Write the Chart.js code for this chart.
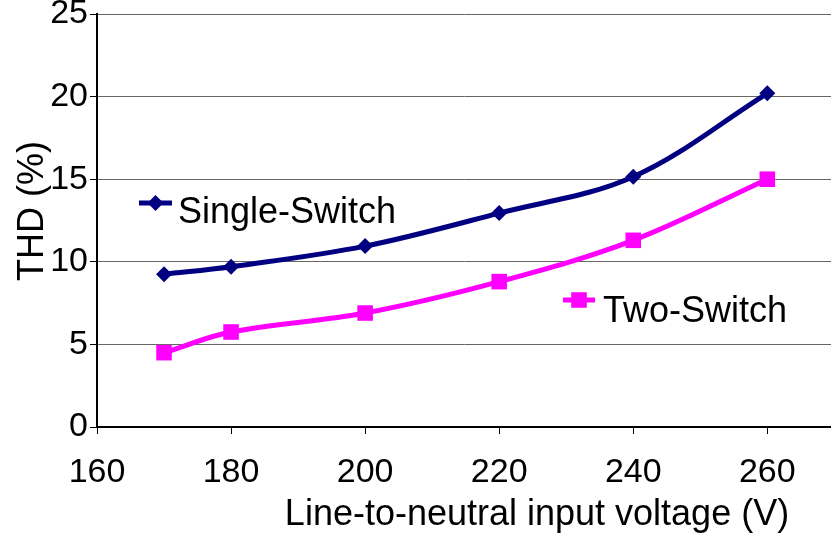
<!DOCTYPE html>
<html>
<head>
<meta charset="utf-8">
<script src="https://cdn.jsdelivr.net/npm/chart.js@4/dist/chart.umd.min.js"></script>
<style>
  body { margin: 0; background: #fff; }
  #wrap { width: 831px; height: 536px; }
</style>
</head>
<body>
<div id="wrap"><canvas id="thd" width="831" height="536"></canvas></div>
<script>
// THD vs line-to-neutral voltage
const voltages = [170, 180, 200, 220, 240, 260];
const singleSwitch = [9.25, 9.7, 10.95, 12.95, 15.15, 20.2];
const twoSwitch = [4.5, 5.75, 6.9, 8.8, 11.3, 15.0];
const xTicks = [160, 180, 200, 220, 240, 260];
const yTicks = [0, 5, 10, 15, 20, 25];

const FONT = "'Liberation Sans', Arial, sans-serif";

const pts = vals => vals.map((v, i) => ({ x: voltages[i], y: v }));

// legend boxes and axis titles placed like the original figure
const labelsPlugin = {
    id: "labels",
    afterDraw(chart) {
        const ctx = chart.ctx;
        const spots = [
            { lx1: 139, lx2: 172, ly: 203, tx: 178, ty: 223 },
            { lx1: 563, lx2: 595, ly: 300, tx: 603, ty: 322 }
        ];
        chart.data.datasets.forEach((ds, i) => {
            const s = spots[i];
            ctx.save();
            ctx.strokeStyle = ds.borderColor;
            ctx.lineWidth = ds.borderWidth;
            ctx.beginPath();
            ctx.moveTo(s.lx1, s.ly);
            ctx.lineTo(s.lx2, s.ly);
            ctx.stroke();
            ctx.fillStyle = ds.pointBackgroundColor;
            ctx.strokeStyle = ds.pointBackgroundColor;
            Chart.helpers.drawPoint(ctx, {
                pointStyle: ds.pointStyle, radius: ds.pointRadius, borderWidth: 0, rotation: 0
            }, (s.lx1 + s.lx2) / 2, s.ly);
            ctx.fillStyle = "#000";
            ctx.font = "36px " + FONT;
            ctx.textAlign = "left";
            ctx.textBaseline = "alphabetic";
            ctx.fillText(ds.label, s.tx, s.ty);
            ctx.restore();
        });

        ctx.save();
        ctx.fillStyle = "#000";
        ctx.font = "36px " + FONT;
        ctx.textAlign = "center";
        ctx.textBaseline = "alphabetic";
        ctx.fillText("Line-to-neutral input voltage (V)", 537, 525);
        ctx.translate(43, 211);
        ctx.rotate(-Math.PI / 2);
        ctx.fillText("THD (%)", 0, 0);
        ctx.restore();
    }
};

new Chart(document.getElementById("thd"), {
    type: "line",
    data: {
        datasets: [
            {
                label: "Single-Switch",
                data: pts(singleSwitch),
                borderColor: "#000080",
                backgroundColor: "#000080",
                pointBackgroundColor: "#000080",
                borderWidth: 5,
                pointStyle: "rectRot",
                pointRadius: 8,
                pointBorderWidth: 0,
                tension: 0.35
            },
            {
                label: "Two-Switch",
                data: pts(twoSwitch),
                borderColor: "#FF00FF",
                backgroundColor: "#FF00FF",
                pointBackgroundColor: "#FF00FF",
                borderWidth: 5,
                pointStyle: "rect",
                pointRadius: 11,
                pointBorderWidth: 0,
                tension: 0.35
            }
        ]
    },
    options: {
        responsive: false,
        animation: false,
        layout: { autoPadding: false, padding: { top: 14, left: 0, right: 0, bottom: 0 } },
        plugins: {
            legend: { display: false },
            tooltip: { enabled: false }
        },
        scales: {
            x: {
                type: "linear",
                min: 160,
                max: 269.5,
                afterBuildTicks: s => { s.ticks = xTicks.map(v => ({ value: v })); },
                afterFit: s => { s.height = 109; s.paddingLeft = 0; s.paddingRight = 0; },
                border: { color: "#000", width: 2 },
                grid: { drawOnChartArea: false, drawTicks: true, tickLength: 7, tickColor: "#000", tickWidth: 1 },
                ticks: { color: "#000", font: { family: FONT, size: 34 }, padding: 18, maxRotation: 0 }
            },
            y: {
                min: 0,
                max: 25,
                afterBuildTicks: s => { s.ticks = yTicks.map(v => ({ value: v })); },
                afterFit: s => { s.width = 97; s.paddingTop = 0; s.paddingBottom = 0; },
                border: { color: "#000", width: 2 },
                grid: { color: "#666", lineWidth: 1, tickLength: 7, tickColor: "#000", tickWidth: 1 },
                ticks: { color: "#000", font: { family: FONT, size: 34 }, padding: 2 }
            }
        }
    },
    plugins: [labelsPlugin]
});
</script>
</body>
</html>
